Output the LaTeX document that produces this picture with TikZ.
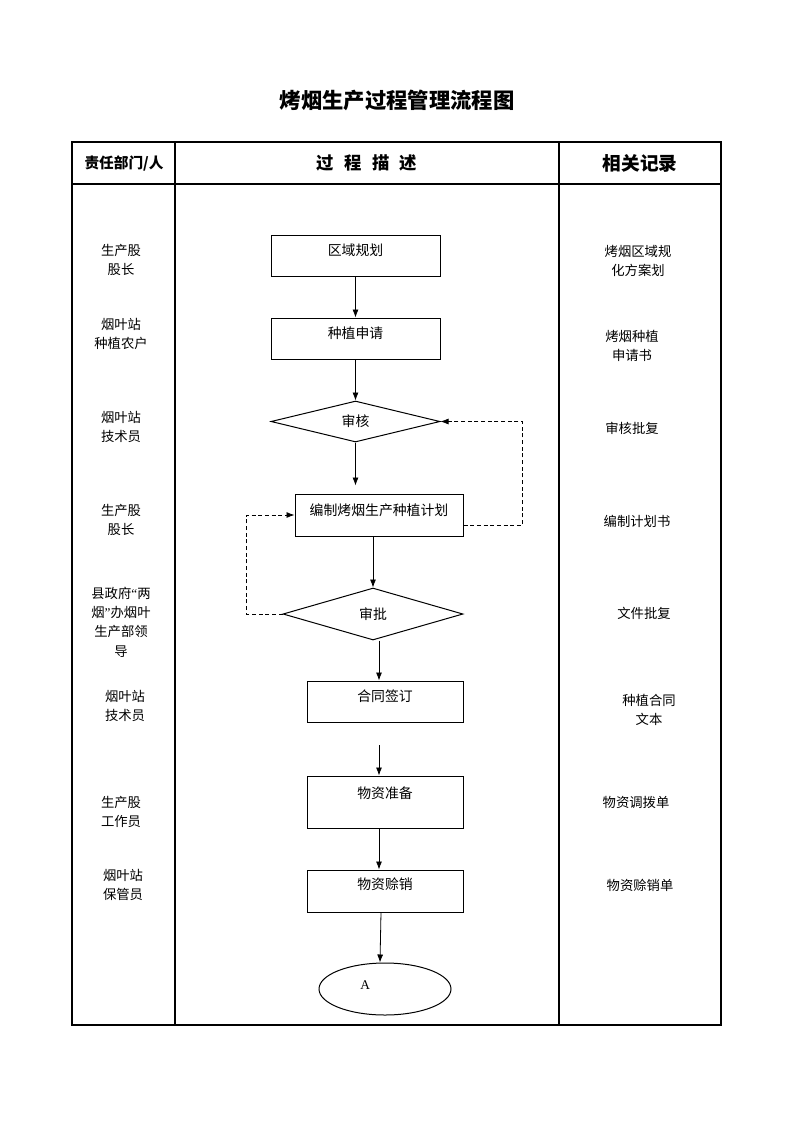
\documentclass[tikz,border=0pt]{standalone}
\usepackage{fontspec}
\setmainfont{Liberation Serif}
\newfontfamily\cjk{Noto Sans CJK SC}
\usetikzlibrary{shapes.geometric, calc, arrows.meta}

\begin{document}
\begin{tikzpicture}[x=0.75pt, y=-0.75pt,
    frame/.style={line width=0.8pt},
    flowbox/.style={draw, line width=0.75pt, rectangle, inner sep=0pt, text height=6pt, text depth=6pt, font=\cjk\fontsize{10.4}{13}\selectfont},
    decision/.style={draw, line width=0.75pt, diamond, inner sep=0pt, font=\cjk\fontsize{10.4}{13}\selectfont},
    side/.style={align=center, font=\cjk\fontsize{10}{14.5}\selectfont},
    head/.style={font=\cjk\bfseries\fontsize{#1}{#1}\selectfont},
    arrow/.style={-{Latex[length=6pt, width=4.5pt]}, line width=0.6pt},
    dasharrow/.style={-{Latex[length=6pt, width=4.5pt]}, line width=0.6pt, dash pattern=on 3pt off 2pt}
    ]
    \useasboundingbox (0,0) rectangle (793,1122);

    % Title and table
    \node[head=16] (title) at (397,100) {烤烟生产过程管理流程图};
    \draw[frame] (72,142) rectangle (721,1025);
    \draw[frame] (175,142) -- (175,1025);
    \draw[frame] (559,142) -- (559,1025);
    \draw[frame] (72,184) -- (721,184);

    \node[head=11] (hdept) at (124,163) {责任部门/人};
    \node[head=13] (hproc) at (367,163) {过\hspace{0.6em}程\hspace{0.6em}描\hspace{0.6em}述};
    \node[head=14] (hrec) at (640,163) {相关记录};

    % Process
    \node[flowbox, minimum width=126.75pt, minimum height=30.75pt] (qygh) at (355.5,255.5) {区域规划};
    \node[flowbox, minimum width=126.75pt, minimum height=30.75pt] (zzsq) at (355.5,338.5) {种植申请};
    \node[decision, minimum width=126.75pt, minimum height=30.75pt] (shenhe) at (355.5,421.5) {审核};
    \node[flowbox, minimum width=126pt, minimum height=31.5pt] (bzjh) at (379,515) {编制烤烟生产种植计划};
    \node[decision, minimum width=135pt, minimum height=39pt] (shenpi) at (373,614) {审批};
    \node[flowbox, minimum width=117pt, minimum height=30.75pt] (htqd) at (385,701.5) {合同签订};
    \node[flowbox, minimum width=117pt, minimum height=39pt, text depth=12pt] (wzzb) at (385,802) {物资准备};
    \node[flowbox, minimum width=117pt, minimum height=31.5pt, text depth=8pt] (wzsx) at (385,891) {物资赊销};
    \node[draw, ellipse, line width=0.75pt, minimum width=99pt, minimum height=39pt, inner sep=0pt,
        text width=37pt, align=left, text height=6pt, text depth=6pt, font=\fontsize{10}{12}\selectfont] (endA) at (385,989) {A};

    % Responsible departments
    \node[side] (dept1) at (121,260) {生产股\\股长};
    \node[side] (dept2) at (121,334) {烟叶站\\种植农户};
    \node[side] (dept3) at (121,427) {烟叶站\\技术员};
    \node[side] (dept4) at (121,520) {生产股\\股长};
    \node[side] (dept5) at (121,622) {县政府{\rmfamily“}两\\烟{\rmfamily”}办烟叶\\生产部领\\导};
    \node[side] (dept6) at (125,706) {烟叶站\\技术员};
    \node[side] (dept7) at (121,812) {生产股\\工作员};
    \node[side] (dept8) at (123,885) {烟叶站\\保管员};

    % Records
    \node[side] (rec1) at (638,261) {烤烟区域规\\化方案划};
    \node[side] (rec2) at (632,346) {烤烟种植\\申请书};
    \node[side] (rec3) at (632,428) {审核批复};
    \node[side] (rec4) at (637,521) {编制计划书};
    \node[side] (rec5) at (644,613) {文件批复};
    \node[side] (rec6) at (649,710) {种植合同\\文本};
    \node[side] (rec7) at (636,802) {物资调拨单};
    \node[side] (rec8) at (640,885) {物资赊销单};

    % Arrows
    \coordinate (spb) at ([xshift=4.5pt]shenpi.south);
    \coordinate (htb) at ([xshift=-4.5pt]htqd.south);
    \coordinate (wzb) at ([xshift=-4.5pt]wzzb.south);

    \draw[arrow] (qygh.south) -- (zzsq.north);
    \draw[arrow] (zzsq.south) -- (shenhe.north);
    \draw[arrow, shorten >=6pt] (shenhe.south) -- (shenhe.south |- bzjh.north);
    \draw[arrow] (shenpi.north |- bzjh.south) -- (shenpi.north);
    \draw[arrow] (spb) -- (spb |- htqd.north);
    \draw[arrow, shorten <=17pt] (htb) -- (htb |- wzzb.north);
    \draw[arrow] (wzb) -- (wzb |- wzsx.north);
    \draw[arrow] ([xshift=-3pt]wzsx.south) -- ([xshift=-3.75pt]endA.north);

    \draw[dasharrow] ([yshift=-7.5pt]bzjh.east) -- ++(59,0) |- (shenhe.east);
    \draw[dasharrow] (shenpi.west) -- ++(-36,0) |- (bzjh.west);

\end{tikzpicture}
\end{document}
